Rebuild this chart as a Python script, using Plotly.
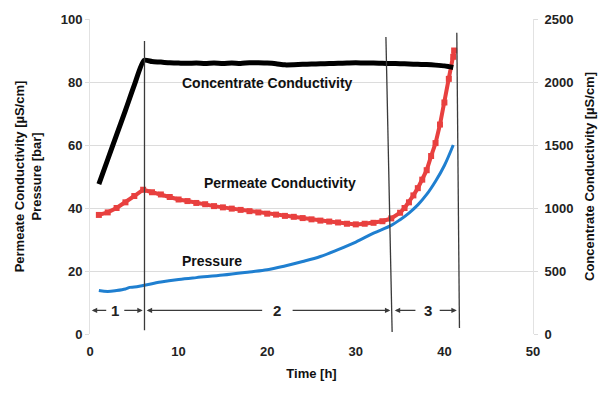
import plotly.graph_objects as go

# ---- data ----
conc_x = [1, 2, 3, 4, 5, 6.1, 7, 8, 9, 10, 11, 12, 13, 14, 15, 16, 17, 18, 19, 20, 21, 22, 23, 24, 25, 26, 27, 28, 29, 30, 31, 32, 33, 34, 35, 36, 37, 38, 39, 40, 40.5, 41]
conc_y = [1190, 1385, 1580, 1775, 1975, 2172, 2162, 2158, 2152, 2150, 2148, 2150, 2147, 2150, 2146, 2150, 2147, 2153, 2152, 2150, 2145, 2136, 2137, 2140, 2142, 2145, 2146, 2148, 2150, 2152, 2150, 2150, 2148, 2147, 2145, 2143, 2140, 2138, 2134, 2128, 2122, 2115]

perm_x = [1, 2, 3, 4, 5, 6, 7, 8, 9, 10, 11, 12, 13, 14, 15, 16, 17, 18, 19, 20, 21, 22, 23, 24, 25, 26, 27, 28, 29, 30, 31, 32, 33, 34, 35, 35.5, 36, 36.5, 37, 37.5, 38, 38.5, 39, 39.5, 40, 40.5, 41, 41.1]
perm_y = [37.8, 38.6, 40, 41.8, 43.8, 45.8, 45, 44.3, 43.5, 42.7, 42.2, 41.6, 41.2, 40.6, 40.2, 39.8, 39.4, 39, 38.6, 38.2, 37.9, 37.5, 37.2, 36.8, 36.4, 36, 35.7, 35.4, 35, 34.8, 35, 35.3, 35.8, 36.7, 38.5, 40, 41.8, 44, 46.3, 49, 52, 56.5, 60.6, 66.5, 73.5, 81, 88, 90]

pres_x = [1, 2, 3, 4, 4.5, 5, 6, 8, 10, 12, 15, 18, 20, 22, 24, 26, 28, 30, 32, 34, 35, 36, 37, 38, 39, 40, 41]
pres_y = [13.8, 13.5, 13.8, 14.3, 14.8, 14.9, 15.4, 16.5, 17.3, 17.9, 18.7, 19.7, 20.4, 21.6, 23, 24.6, 26.8, 29.2, 32, 34.5, 36.3, 38.4, 41, 44.3, 48.5, 53.5, 60]

# phase boundary lines (x_bottom, y_bottom, x_top, y_top)
phase_lines = [(6.15, 1.2, 6.15, 93), (34.1, 0.6, 33.4, 94.3), (41.7, 1.9, 41.4, 95.6)]
phase_labels = ["1", "2", "3"]
phase_label_x = [2.8, 21.1, 38.1]
# arrows: (head_x, tail_x)
phase_arrows = [(0.2, 2.0), (5.95, 3.7), (6.4, 19.6), (33.9, 22.7), (34.4, 36.9), (41.4, 39.3)]
arrow_y = 7.5

fig = go.Figure()
fig.add_trace(go.Scatter(x=perm_x, y=perm_y, mode="lines+markers", line=dict(color="#e8403f", width=4),
                         marker=dict(symbol="square", size=6, color="#e8403f"), yaxis="y", showlegend=False))
fig.add_trace(go.Scatter(x=pres_x, y=pres_y, mode="lines", line=dict(color="#1f7fd0", width=3, shape="spline"),
                         yaxis="y", showlegend=False))
fig.add_trace(go.Scatter(x=conc_x, y=conc_y, mode="lines", line=dict(color="black", width=5, shape="spline", smoothing=0.6),
                         yaxis="y2", showlegend=False))

for (xb, yb, xt, yt) in phase_lines:
    fig.add_shape(type="line", x0=xb, y0=yb, x1=xt, y1=yt, xref="x", yref="y",
                  line=dict(color="#3a3a3a", width=1.3))

for hx, tx in phase_arrows:
    fig.add_annotation(x=hx, y=arrow_y, ax=tx, ay=arrow_y, xref="x", yref="y", axref="x", ayref="y",
                       text="", showarrow=True, arrowhead=2, arrowsize=0.9, arrowwidth=1.2, arrowcolor="#3a3a3a")
for lab, lx in zip(phase_labels, phase_label_x):
    fig.add_annotation(x=lx, y=arrow_y, xref="x", yref="y", text=lab, showarrow=False,
                       font=dict(family="Liberation Sans", size=15, color="#222", weight="bold"))

labfont = dict(family="Liberation Sans", size=14, color="#111", weight="bold")
fig.add_annotation(x=20, y=79.7, xref="x", yref="y", text="Concentrate Conductivity", showarrow=False, font=labfont)
fig.add_annotation(x=21.5, y=47.8, xref="x", yref="y", text="Permeate Conductivity", showarrow=False, font=labfont)
fig.add_annotation(x=13.8, y=23.3, xref="x", yref="y", text="Pressure", showarrow=False, font=labfont)

tickfont = dict(family="Liberation Sans", size=13, color="#222", weight="bold")
titlefont = dict(family="Liberation Sans", size=13, color="#111", weight="bold")

fig.update_layout(
    width=607, height=393,
    margin=dict(l=90, r=71, t=14, b=59),
    paper_bgcolor="white", plot_bgcolor="white",
    xaxis=dict(range=[0, 50], tickvals=[0, 10, 20, 30, 40, 50], showgrid=False, zeroline=False,
               showline=False, ticks="", tickfont=tickfont, ticklabelstandoff=8,
               title=dict(text="Time [h]", font=titlefont, standoff=10)),
    yaxis=dict(range=[0, 100], tickvals=[0, 20, 40, 60, 80, 100], showgrid=True, gridcolor="#dcdcdc",
               gridwidth=1, zeroline=False, showline=True, linecolor="#e2e2e2", ticks="outside",
               ticklen=4, tickcolor="#dcdcdc", tickfont=tickfont,
               title=dict(text="Permeate Conductivity [µS/cm]<br>Pressure [bar]", font=titlefont, standoff=16)),
    yaxis2=dict(range=[0, 2500], tickvals=[0, 500, 1000, 1500, 2000, 2500], overlaying="y", side="right",
                showgrid=False, zeroline=False, showline=True, linecolor="#e2e2e2", ticks="outside",
                ticklen=4, tickcolor="#dcdcdc", tickfont=tickfont, ticklabelstandoff=4,
                title=dict(text="Concentrate Conductivity [µS/cm]", font=titlefont, standoff=12)),
)

fig.write_html("out.html")
